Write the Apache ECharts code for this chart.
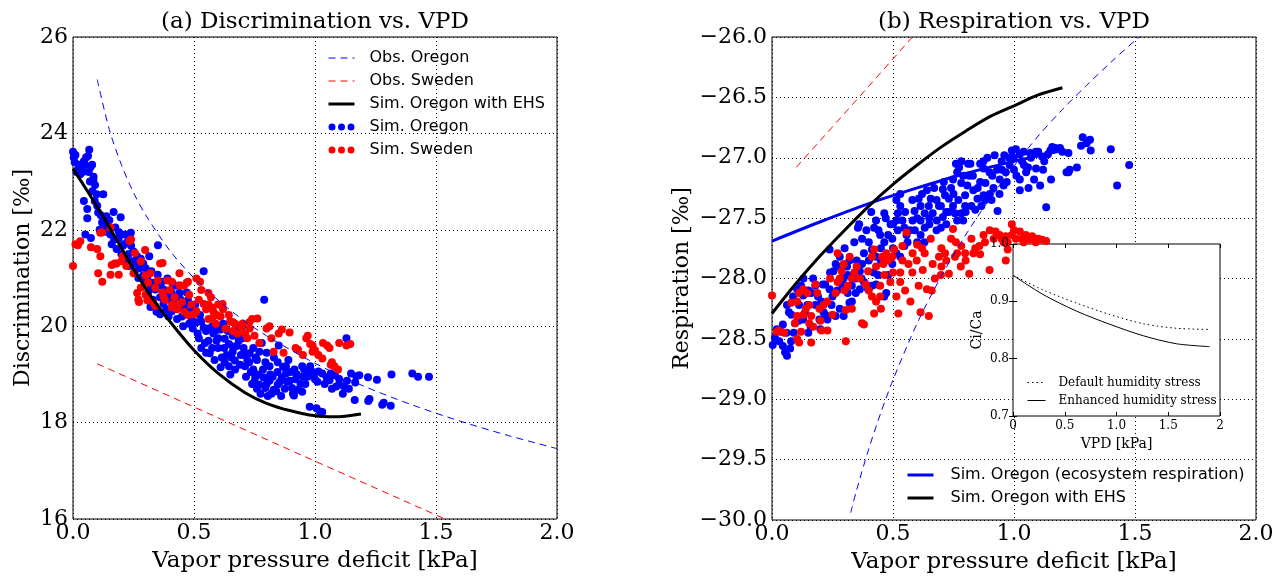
<!DOCTYPE html>
<html><head><meta charset="utf-8">
<script src="https://cdn.jsdelivr.net/npm/echarts@6/dist/echarts.min.js"></script>
<style>html,body{margin:0;padding:0;background:#fff}#c{width:1275px;height:576px}</style>
</head><body><div id="c"></div>
<script>
// ---------- Panel (a): Discrimination vs. VPD ----------
const obsOregonA = [[0.1,25.12],[0.15,24.08],[0.2,23.35],[0.25,22.77],[0.3,22.31],[0.4,21.57],[0.5,21.0],[0.6,20.54],[0.7,20.14],[0.8,19.8],[1.0,19.23],[1.2,18.76],[1.4,18.37],[1.6,18.03],[1.8,17.73],[2.0,17.46]];
const obsSwedenA = [[0.1,19.22],[0.644,18.0],[1.0,17.2],[1.6,15.86]];
const ehsA = [[0,23.27],[0.06,22.8],[0.121,22.3],[0.2,21.62],[0.256,21.14],[0.322,20.62],[0.408,20.05],[0.5,19.5],[0.6,19.02],[0.711,18.62],[0.8,18.4],[0.895,18.25],[1.0,18.14],[1.08,18.12],[1.19,18.18]];
const simOregonA = [[0.0,23.62],[0.003,23.5],[0.007,23.4],[0.015,23.2],[0.02,23.25],[0.03,23.15],[0.037,23.3],[0.045,23.42],[0.05,23.35],[0.054,23.5],[0.062,23.53],[0.067,23.66],[0.072,23.3],[0.079,23.35],[0.084,23.04],[0.091,22.93],[0.098,22.74],[0.125,22.74],[0.045,22.6],[0.059,22.43],[0.059,22.24],[0.051,21.9],[0.074,21.83],[0.085,23.1],[0.07,23.0],
[0.104,22.36],[0.11,22.0],[0.12,22.15],[0.138,22.28],[0.168,22.37],[0.197,22.26],[0.13,22.09],[0.145,21.95],[0.155,21.9],[0.17,21.8],[0.189,21.83],[0.214,21.9],[0.225,21.75],[0.239,21.94],[0.206,21.67],[0.18,21.6],[0.24,21.67],[0.25,21.55],[0.265,21.45],[0.222,21.37],[0.2,21.5],[0.256,21.14],[0.23,21.25],[0.28,21.4],[0.29,21.3],[0.3,21.2],[0.27,21.0],[0.16,21.7],[0.12,21.95],
[0.315,21.45],[0.324,21.14],[0.35,21.07],[0.367,20.92],[0.34,20.76],[0.307,20.99],[0.39,20.99],[0.374,20.76],[0.408,20.69],[0.425,20.84],[0.44,20.69],[0.374,20.46],[0.408,20.31],[0.44,20.39],[0.475,20.31],[0.49,20.16],[0.51,20.08],[0.54,21.14],[0.475,20.54],[0.525,20.23],[0.351,21.68],[0.33,20.9],[0.36,20.6],[0.385,20.35],[0.4,20.55],[0.42,20.5],[0.45,20.2],[0.46,20.45],[0.48,20.05],[0.5,20.3],[0.36,20.25],[0.33,20.55],
[0.54,19.97],[0.576,20.0],[0.61,19.93],[0.56,19.7],[0.593,19.7],[0.627,19.74],[0.644,19.63],[0.66,19.47],[0.677,19.59],[0.694,19.4],[0.627,19.25],[0.644,19.17],[0.669,19.29],[0.52,19.75],[0.53,19.55],[0.55,19.45],[0.565,19.44],[0.58,19.85],[0.6,19.55],[0.615,19.35],[0.64,19.9],[0.66,19.8],[0.68,19.95],[0.7,19.75],[0.55,19.9],[0.593,19.92],[0.661,19.58],[0.62,20.05],[0.65,20.1],[0.7,20.0],
[0.711,19.17],[0.728,19.25],[0.745,19.1],[0.753,18.94],[0.77,18.79],[0.787,18.94],[0.795,18.72],[0.812,18.87],[0.82,18.6],[0.829,18.68],[0.846,18.79],[0.863,18.94],[0.88,19.02],[0.896,18.87],[0.711,19.4],[0.745,19.55],[0.77,19.47],[0.795,19.25],[0.812,19.17],[0.846,19.25],[0.88,19.17],[0.73,19.44],[0.76,19.3],[0.78,19.65],[0.8,19.45],[0.83,19.35],[0.85,19.6],[0.868,19.16],[0.74,18.8],[0.76,18.7],[0.79,20.55],
[0.909,18.6],[0.913,18.56],[0.905,18.72],[0.93,18.68],[0.947,18.64],[0.95,18.95],[0.964,19.02],[0.947,19.17],[0.98,19.17],[0.99,19.05],[0.997,19.02],[1.014,19.06],[1.03,19.02],[1.048,18.94],[1.06,18.88],[1.065,19.02],[1.082,18.98],[1.088,18.75],[1.1,18.79],[1.1,18.9],[1.115,18.6],[1.132,18.87],[1.149,19.02],[1.164,18.47],[1.166,18.83],[1.17,18.96],[1.183,18.98],[1.13,19.75],[0.978,18.33],[1.006,18.3],[1.02,18.23],[1.03,18.22],[0.92,18.9],[0.96,18.8],
[1.219,18.94],[1.225,18.49],[1.256,18.89],[1.22,18.45],[1.278,18.37],[1.284,18.41],[1.313,18.35],[1.316,19.0],[1.402,19.02],[1.426,18.95],[1.471,18.95],
[0.01,23.55],[0.025,23.35],[0.04,23.2],[0.065,23.2],[0.08,22.8],[0.09,22.6],[0.1,22.5],[0.115,22.3],[0.135,22.1],[0.15,22.2],[0.175,22.05],[0.19,21.95],[0.21,21.7],[0.23,21.5],[0.245,21.35],[0.26,21.3],[0.275,21.2],[0.29,21.05],[0.3,20.95],[0.32,20.8],
[0.31,20.7],[0.32,20.4],[0.345,20.3],[0.36,20.85],[0.38,20.65],[0.395,20.2],[0.41,20.9],[0.43,20.15],[0.445,20.55],[0.455,20.0],[0.47,20.7],[0.485,20.3],[0.495,19.95],[0.505,20.45],[0.515,19.85],[0.53,20.1],[0.545,19.65],[0.56,19.95],[0.575,19.55],[0.585,19.3],[0.6,19.75],[0.61,19.15],[0.625,19.55],[0.635,19.4],[0.65,19.0],[0.655,19.35],[0.67,19.1],[0.685,19.7],[0.69,19.2],[0.705,19.55],[0.715,18.95],[0.72,19.3],[0.735,19.05],[0.75,18.85],[0.755,19.35],[0.765,19.0],[0.775,18.6],[0.785,19.1],[0.8,18.8],[0.805,18.55],[0.815,19.0],[0.825,18.95],[0.84,18.65],[0.845,19.05],[0.855,18.85],[0.86,18.55],[0.875,18.7],[0.885,18.85],[0.89,19.3],[0.9,19.05],[0.915,19.1],[0.925,19.0],[0.94,18.8],[0.955,19.1],[0.97,18.95],[0.985,19.0],[1.0,18.9],[1.01,18.85],[1.04,18.8],[1.07,18.7],[1.12,18.75],[1.14,18.7]];
const simSwedenA = [[0.0,21.25],[0.01,21.7],[0.02,21.68],[0.03,21.76],[0.074,21.64],[0.104,21.1],[0.1,21.6],[0.113,21.45],[0.113,21.94],[0.121,20.92],[0.12,21.95],[0.155,22.05],[0.155,21.07],[0.16,21.27],[0.172,21.3],[0.18,21.3],[0.189,21.07],[0.2,21.35],[0.206,21.45],[0.22,21.25],[0.234,21.77],[0.24,21.8],[0.25,21.1],[0.256,21.52],[0.265,20.69],[0.27,20.55],[0.273,20.5],[0.28,20.8],[0.28,21.35],[0.298,21.58],[0.3,20.65],[0.3,21.05],[0.307,20.54],[0.31,20.9],[0.32,21.1],[0.33,20.5],[0.34,20.42],[0.34,20.8],[0.35,20.95],[0.36,21.3],[0.37,21.31],[0.37,20.7],[0.374,20.61],[0.38,20.55],[0.39,20.95],[0.4,20.75],[0.408,20.39],[0.408,20.92],[0.41,20.45],[0.42,20.6],[0.43,20.35],[0.44,21.1],[0.44,20.46],[0.44,20.85],[0.45,20.5],[0.458,20.84],[0.46,20.3],[0.47,20.9],[0.475,20.92],[0.475,20.23],[0.48,20.65],[0.49,20.45],[0.5,20.25],[0.51,20.99],[0.51,20.31],[0.52,20.55],[0.525,20.92],[0.53,20.75],[0.54,20.46],[0.55,20.35],[0.56,20.69],[0.56,20.15],[0.56,20.45],[0.57,20.6],[0.576,20.39],[0.576,20.16],[0.58,20.3],[0.59,20.05],[0.593,20.23],[0.6,20.45],[0.61,20.2],[0.618,20.46],[0.62,20.35],[0.63,19.95],[0.644,20.23],[0.65,20.1],[0.66,20.08],[0.66,19.9],[0.67,20.05],[0.68,19.85],[0.694,19.97],[0.7,20.05],[0.711,19.85],[0.72,19.75],[0.728,20.08],[0.73,19.95],[0.74,20.15],[0.75,19.8],[0.762,20.16],[0.77,19.65],[0.8,19.95],[0.812,20.0],[0.82,19.75],[0.829,19.47],[0.85,19.85],[0.863,19.93],[0.87,19.45],[0.895,19.87],[0.92,19.55],[0.93,19.51],[0.95,19.4],[0.964,19.75],[0.97,19.8],[0.98,19.63],[0.99,19.47],[0.99,19.6],[1.0,19.5],[1.014,19.4],[1.03,19.33],[1.033,19.65],[1.05,19.6],[1.06,19.55],[1.065,19.2],[1.07,19.25],[1.08,19.17],[1.095,19.1],[1.1,19.65],[1.13,19.6],[1.146,19.63]];

// ---------- Panel (b): Respiration vs. VPD ----------
const obsOregonB = [[0.325,-29.94],[0.35,-29.75],[0.4,-29.41],[0.45,-29.11],[0.5,-28.84],[0.6,-28.37],[0.7,-27.98],[0.8,-27.64],[0.9,-27.34],[1.0,-27.07],[1.1,-26.82],[1.2,-26.6],[1.3,-26.4],[1.4,-26.21],[1.5,-26.03],[1.55,-25.95]];
const obsSwedenB = [[0.1,-27.08],[0.35,-26.52],[0.62,-25.91]];
const ecoOregonB = [[0,-27.69],[0.2,-27.53],[0.4,-27.38],[0.6,-27.25],[0.8,-27.13],[1.0,-27.03],[1.2,-26.94]];
const ehsB = [[0,-28.29],[0.1,-28.04],[0.2,-27.81],[0.3,-27.6],[0.4,-27.4],[0.5,-27.22],[0.6,-27.06],[0.7,-26.91],[0.8,-26.78],[0.9,-26.66],[1.0,-26.57],[1.1,-26.48],[1.2,-26.42]];
const simOregonB = [[0.003,-28.55],[0.012,-28.49],[0.045,-28.38],[0.037,-28.44],[0.054,-28.61],[0.045,-28.56],[0.062,-28.64],[0.075,-28.58],[0.079,-28.52],[0.07,-28.28],[0.062,-28.22],[0.087,-28.15],[0.104,-28.09],[0.12,-28.06],[0.129,-28.14],[0.112,-28.22],[0.095,-28.37],[0.129,-28.34],[0.137,-28.28],[0.146,-28.22],[0.162,-28.12],[0.17,-28.0],[0.179,-28.06],[0.179,-28.22],[0.196,-28.34],[0.213,-28.28],[0.204,-28.19],[0.229,-28.34],[0.238,-28.09],[0.246,-28.22],[0.263,-28.31],[0.28,-28.25],[0.296,-28.31],[0.254,-27.94],[0.263,-27.88],[0.238,-27.76],[0.28,-27.82],[0.296,-28.0],[0.313,-27.97],[0.33,-28.06],[0.313,-28.12],[0.33,-28.19],[0.346,-28.12],[0.363,-28.09],[0.346,-28.0],[0.363,-27.94],[0.372,-27.88],[0.38,-27.79],[0.372,-27.67],[0.355,-27.58],[0.38,-28.03],[0.397,-28.09],[0.413,-28.06],[0.43,-28.05],[0.438,-27.97],[0.43,-27.82],[0.413,-27.76],[0.422,-27.58],[0.43,-27.52],[0.464,-27.46],[0.447,-27.64],[0.464,-27.7],[0.48,-27.64],[0.497,-27.67],[0.514,-27.52],[0.52,-27.46],[0.514,-27.35],[0.53,-27.4],[0.539,-27.52],[0.547,-27.58],[0.556,-27.64],[0.547,-27.73],[0.53,-27.82],[0.497,-27.88],[0.48,-27.97],[0.472,-28.12],[0.464,-28.15],[0.514,-27.79],[0.581,-27.52],[0.589,-27.44],[0.614,-27.4],[0.606,-27.34],[0.614,-27.52],[0.631,-27.46],[0.648,-27.4],[0.656,-27.34],[0.64,-27.27],[0.614,-27.64],[0.631,-27.58],[0.664,-27.46],[0.681,-27.52],[0.698,-27.58],[0.706,-27.49],[0.698,-27.4],[0.715,-27.31],[0.706,-27.26],[0.731,-27.34],[0.748,-27.4],[0.756,-27.46],[0.765,-27.52],[0.782,-27.46],[0.79,-27.52],[0.798,-27.4],[0.798,-27.31],[0.807,-27.23],[0.782,-27.21],[0.765,-27.12],[0.748,-27.18],[0.773,-27.08],[0.782,-27.03],[0.815,-27.15],[0.832,-27.27],[0.824,-27.4],[0.84,-27.43],[0.849,-27.34],[0.865,-27.4],[0.874,-27.31],[0.882,-27.21],[0.874,-27.09],[0.874,-27.03],[0.899,-27.12],[0.907,-27.35],[0.915,-27.25],[0.932,-27.44],[0.941,-27.18],[0.949,-27.03],[0.957,-27.23],[0.966,-27.12],[0.982,-27.06],[0.991,-26.94],[0.999,-27.0],[1.008,-26.93],[1.024,-26.97],[1.033,-27.03],[1.024,-27.18],[1.024,-27.27],[1.041,-27.06],[1.058,-27.08],[1.066,-26.96],[1.083,-27.18],[1.091,-27.09],[1.108,-27.23],[1.116,-26.99],[1.125,-27.03],[1.133,-27.41],[1.15,-26.94],[1.158,-26.91],[1.166,-26.93],[1.153,-27.18],[1.217,-27.12],[1.225,-26.96],[1.26,-27.08],[1.277,-26.9],[1.284,-26.83],[1.314,-26.85],[1.317,-26.94],[1.4,-26.93],[1.426,-27.23],[1.476,-27.06],[1.225,-27.12],
[0.15,-28.45],[0.2,-28.42],[0.22,-28.05],[0.27,-28.1],[0.32,-27.85],[0.4,-27.7],[0.45,-27.85],[0.5,-27.55],[0.57,-27.6],[0.6,-27.7],[0.65,-27.55],[0.68,-27.35],[0.72,-27.45],[0.74,-27.25],[0.82,-27.05],[0.86,-27.2],[0.9,-27.3],[0.93,-27.1],[0.96,-26.98],[1.05,-27.12],[1.1,-26.95],[1.19,-26.92],
[0.02,-28.42],[0.03,-28.52],[0.06,-28.45],[0.08,-28.3],[0.09,-28.45],[0.11,-28.35],[0.13,-28.0],[0.15,-28.1],[0.16,-28.4],[0.19,-28.15],[0.21,-28.05],[0.22,-28.3],[0.24,-27.95],[0.25,-28.15],[0.27,-27.9],[0.29,-28.05],[0.3,-27.75],[0.31,-27.9],[0.32,-28.2],[0.34,-27.7],[0.35,-27.85],[0.36,-27.55],[0.37,-28.0],[0.39,-27.6],[0.4,-27.85],[0.41,-27.45],[0.42,-27.95],[0.44,-27.6],[0.45,-27.75],[0.47,-27.5],[0.49,-27.55],[0.5,-27.75],[0.52,-27.6],[0.53,-27.3],[0.55,-27.45],[0.56,-27.7],[0.58,-27.35],[0.59,-27.6],[0.6,-27.5],[0.62,-27.3],[0.63,-27.7],[0.65,-27.5],[0.67,-27.25],[0.68,-27.6],[0.69,-27.4],[0.71,-27.2],[0.72,-27.55],[0.73,-27.45],[0.75,-27.3],[0.76,-27.05],[0.77,-27.35],[0.79,-27.15],[0.8,-27.45],[0.81,-27.05],[0.83,-27.15],[0.85,-27.25],[0.86,-27.05],[0.88,-27.35],[0.89,-27.0],[0.91,-27.15],[0.92,-26.98],[0.94,-27.3],[0.95,-27.1],[0.97,-27.2],[0.98,-27.0],[1.0,-27.1],[1.01,-27.15],[1.04,-26.95],[1.06,-27.25],[1.07,-27.0],[1.09,-26.95],[1.12,-27.1],[1.14,-26.97],[1.17,-26.92],[1.2,-26.95],[1.23,-27.1],[1.3,-26.88]];
const simSwedenB = [[0.0,-28.14],[0.02,-28.44],[0.029,-28.43],[0.095,-28.37],[0.104,-28.5],[0.112,-28.53],[0.12,-28.44],[0.104,-28.31],[0.104,-28.19],[0.112,-28.12],[0.129,-28.09],[0.146,-28.12],[0.154,-28.22],[0.162,-28.31],[0.154,-28.37],[0.162,-28.53],[0.17,-28.4],[0.187,-28.12],[0.196,-28.25],[0.204,-28.43],[0.229,-28.43],[0.213,-28.22],[0.229,-28.19],[0.263,-28.12],[0.271,-28.03],[0.28,-28.0],[0.288,-27.94],[0.296,-27.88],[0.271,-27.79],[0.313,-28.06],[0.321,-27.82],[0.33,-28.0],[0.305,-28.26],[0.305,-28.52],[0.33,-28.25],[0.363,-28.0],[0.372,-28.37],[0.38,-28.38],[0.388,-28.05],[0.397,-27.94],[0.413,-27.82],[0.422,-27.76],[0.413,-28.15],[0.422,-28.29],[0.43,-28.19],[0.447,-28.15],[0.447,-28.06],[0.464,-27.97],[0.455,-27.82],[0.472,-27.79],[0.48,-27.85],[0.489,-28.03],[0.497,-27.82],[0.505,-27.76],[0.514,-28.15],[0.522,-28.29],[0.53,-28.03],[0.539,-27.85],[0.539,-27.73],[0.556,-27.62],[0.564,-27.88],[0.572,-28.19],[0.581,-27.79],[0.598,-27.85],[0.606,-28.06],[0.614,-28.28],[0.623,-27.93],[0.631,-27.79],[0.64,-28.09],[0.648,-28.31],[0.656,-27.67],[0.664,-27.88],[0.673,-28.0],[0.69,-27.82],[0.698,-27.97],[0.715,-27.79],[0.731,-27.96],[0.74,-27.67],[0.748,-27.59],[0.756,-27.82],[0.765,-27.79],[0.782,-27.73],[0.798,-27.79],[0.815,-27.96],[0.824,-27.67],[0.832,-27.79],[0.857,-27.73],[0.874,-27.64],[0.899,-27.93],[0.924,-27.61],[0.941,-27.64],[0.949,-27.67],[0.966,-27.85],[0.974,-27.7],[0.991,-27.55],[0.991,-27.64],[1.008,-27.67],[1.024,-27.61],[1.033,-27.67],[1.049,-27.64],[1.066,-27.68],[1.075,-27.65],[1.1,-27.67],[1.116,-27.68],[1.133,-27.69],[0.966,-27.65],[0.957,-27.7],[0.916,-27.67],[0.974,-27.76],
[0.05,-28.45],[0.14,-28.25],[0.24,-28.0],[0.35,-27.9],[0.46,-27.88],[0.53,-27.95],[0.6,-27.72],[0.7,-27.9],[0.78,-27.9],[0.86,-27.8],
[0.08,-28.2],[0.13,-28.3],[0.18,-28.05],[0.2,-28.35],[0.25,-28.3],[0.3,-28.1],[0.34,-27.95],[0.4,-28.1],[0.43,-27.9],[0.45,-28.25],[0.5,-27.95],[0.55,-28.1],[0.58,-27.95],[0.62,-27.75],[0.66,-28.1],[0.7,-27.75],[0.72,-27.85],[0.76,-27.7],[0.8,-27.85],[0.84,-27.75],[0.88,-27.7],[0.9,-27.6],[1.0,-27.6],[1.04,-27.7],[1.09,-27.7]];

// ---------- Inset: Ci/Ca vs VPD ----------
const defaultStress = [[0,0.9455],[0.29,0.920],[0.613,0.897],[0.935,0.877],[1.258,0.861],[1.58,0.853],[1.90,0.851]];
const enhancedStress = [[0,0.9455],[0.29,0.912],[0.613,0.883],[0.935,0.860],[1.258,0.840],[1.58,0.826],[1.90,0.821]];
const insetXLabels = {0:'0',0.5:'0.5',1:'1.0',1.5:'1.5',2:'2'};

const SERIF = 'DejaVu Serif', SANS = 'DejaVu Sans';
const BLUE = '#0000ff', RED = '#ff0000';
const DASH = [7,5];
const dotsIcon = 'path://M0,3.5a3.5,3.5 0 1,0 7,0a3.5,3.5 0 1,0 -7,0Z M9.5,3.5a3.5,3.5 0 1,0 7,0a3.5,3.5 0 1,0 -7,0Z M19,3.5a3.5,3.5 0 1,0 7,0a3.5,3.5 0 1,0 -7,0Z';
const noDot = {opacity:0};

const mainGrid = (left, height) => ({left, top:37, width:484, height, show:true, borderColor:'#000', borderWidth:1, backgroundColor:'transparent', containLabel:false, outerBoundsMode:'none'});
const split = {show:true, lineStyle:{color:'#000', type:[1,3], width:1}};
const tickLbl = {fontFamily:SERIF, fontSize:22, color:'#000'};
const minusFmt = v => (v < 0 ? '\u2212' : '') + Math.abs(v).toFixed(1);
const dot = c => ({color:c, opacity:1});

const option = {
  backgroundColor:'#fff',
  animation:false,
  title:[
    {text:'(a) Discrimination vs. VPD', left:315, top:11, textAlign:'center', padding:0, textStyle:{fontFamily:SERIF, fontSize:23, fontWeight:'normal', color:'#000'}},
    {text:'(b) Respiration vs. VPD', left:1014, top:11, textAlign:'center', padding:0, textStyle:{fontFamily:SERIF, fontSize:23, fontWeight:'normal', color:'#000'}}
  ],
  grid:[
    mainGrid(73, 482),
    mainGrid(772, 483),
    {left:1013, top:244, width:207, height:172, show:true, borderColor:'#000', borderWidth:1, backgroundColor:'#fff', z:1, containLabel:false, outerBoundsMode:'none'}
  ],
  xAxis:[
    {gridIndex:0, type:'value', min:0, max:2, interval:0.5, axisLine:{show:false}, axisTick:{show:false}, splitLine:split,
     axisLabel:Object.assign({margin:3, formatter:v=>v.toFixed(1)}, tickLbl),
     name:'Vapor pressure deficit [kPa]', nameLocation:'middle', nameGap:31, nameTextStyle:{fontFamily:SERIF, fontSize:23, color:'#000'}},
    {gridIndex:1, type:'value', min:0, max:2, interval:0.5, axisLine:{show:false}, axisTick:{show:false}, splitLine:split,
     axisLabel:Object.assign({margin:3, formatter:v=>v.toFixed(1)}, tickLbl),
     name:'Vapor pressure deficit [kPa]', nameLocation:'middle', nameGap:31, nameTextStyle:{fontFamily:SERIF, fontSize:23, color:'#000'}},
    {gridIndex:2, type:'value', min:0, max:2, interval:0.5, z:3, axisLine:{show:false}, splitLine:{show:false},
     axisTick:{show:true, inside:true, length:4, lineStyle:{color:'#000'}},
     axisLabel:{margin:4, fontFamily:SERIF, fontSize:12, color:'#000', formatter:v=>insetXLabels[v]},
     name:'VPD [kPa]', nameLocation:'middle', nameGap:21, nameTextStyle:{fontFamily:SERIF, fontSize:14, color:'#000'}},
    {gridIndex:2, type:'value', position:'top', min:0, max:2, interval:0.5, z:3, axisLine:{show:false}, splitLine:{show:false},
     axisTick:{show:true, inside:true, length:4, lineStyle:{color:'#000'}}, axisLabel:{show:false}}
  ],
  yAxis:[
    {gridIndex:0, type:'value', min:16, max:26, interval:2, axisLine:{show:false}, axisTick:{show:false}, splitLine:split,
     axisLabel:Object.assign({margin:5}, tickLbl),
     name:'Discrimination [‰]', nameLocation:'middle', nameGap:39, nameTextStyle:{fontFamily:SERIF, fontSize:22, color:'#000'}},
    {gridIndex:1, type:'value', min:-30, max:-26, interval:0.5, axisLine:{show:false}, axisTick:{show:false}, splitLine:split,
     axisLabel:Object.assign({margin:5, formatter:minusFmt}, tickLbl),
     name:'Respiration [‰]', nameLocation:'middle', nameGap:79, nameTextStyle:{fontFamily:SERIF, fontSize:22, color:'#000'}},
    {gridIndex:2, type:'value', min:0.7, max:1.0, interval:0.1, z:3, axisLine:{show:false}, splitLine:{show:false},
     axisTick:{show:true, inside:true, length:4, lineStyle:{color:'#000'}},
     axisLabel:{margin:4, fontFamily:SERIF, fontSize:12, color:'#000', formatter:v=>v.toFixed(1)},
     name:'Ci/Ca', nameLocation:'middle', nameGap:29, nameTextStyle:{fontFamily:SERIF, fontSize:14, color:'#000'}},
    {gridIndex:2, type:'value', position:'right', min:0.7, max:1.0, interval:0.1, z:3, axisLine:{show:false}, splitLine:{show:false},
     axisTick:{show:true, inside:true, length:4, lineStyle:{color:'#000'}}, axisLabel:{show:false}}
  ],
  legend:[
    {orient:'vertical', left:327, top:49, itemWidth:26, itemHeight:7, itemGap:5, padding:0,
     textStyle:{fontFamily:SANS, fontSize:16, color:'#000', lineHeight:18, padding:[0,0,0,10]},
     data:[
       {name:'Obs. Oregon', lineStyle:{color:BLUE, width:1, type:DASH}, itemStyle:noDot},
       {name:'Obs. Sweden', lineStyle:{color:RED, width:1, type:DASH}, itemStyle:noDot},
       {name:'Sim. Oregon with EHS', lineStyle:{color:'#000', width:3}, itemStyle:noDot},
       {name:'Sim. Oregon', icon:dotsIcon, itemStyle:{color:BLUE, opacity:1}},
       {name:'Sim. Sweden', icon:dotsIcon, itemStyle:{color:RED, opacity:1}}
     ]},
    {orient:'vertical', left:906, top:466, itemWidth:26, itemHeight:7, itemGap:5, padding:0,
     textStyle:{fontFamily:SANS, fontSize:16, color:'#000', lineHeight:18, padding:[0,0,0,12]},
     data:[
       {name:'Sim. Oregon (ecosystem respiration)', lineStyle:{color:BLUE, width:3}, itemStyle:noDot},
       {name:'Sim. Oregon with EHS', lineStyle:{color:'#000', width:3}, itemStyle:noDot}
     ]},
    {orient:'vertical', left:1027, top:376, itemWidth:18, itemHeight:6, itemGap:5, padding:0, z:4,
     textStyle:{fontFamily:SERIF, fontSize:12, color:'#000', lineHeight:13, padding:[0,0,0,8]},
     data:[
       {name:'Default humidity stress', lineStyle:{color:'#000', width:1, type:[1.5,3]}, itemStyle:noDot},
       {name:'Enhanced humidity stress', lineStyle:{color:'#000', width:1}, itemStyle:noDot}
     ]}
  ],
  series:[
    // panel (a)
    {name:'Sim. Oregon', type:'scatter', xAxisIndex:0, yAxisIndex:0, data:simOregonA, symbolSize:8, itemStyle:dot(BLUE), z:2},
    {name:'Sim. Sweden', type:'scatter', xAxisIndex:0, yAxisIndex:0, data:simSwedenA, symbolSize:8, itemStyle:dot(RED), z:2},
    {name:'Obs. Oregon', type:'line', xAxisIndex:0, yAxisIndex:0, data:obsOregonA, smooth:0.3, showSymbol:false, symbol:'none', lineStyle:{color:BLUE, width:1, type:DASH}, itemStyle:{color:BLUE}, z:3},
    {name:'Obs. Sweden', type:'line', xAxisIndex:0, yAxisIndex:0, data:obsSwedenA, showSymbol:false, symbol:'none', lineStyle:{color:RED, width:1, type:DASH}, itemStyle:{color:RED}, z:3},
    {name:'Sim. Oregon with EHS', type:'line', xAxisIndex:0, yAxisIndex:0, data:ehsA, smooth:0.3, showSymbol:false, symbol:'none', lineStyle:{color:'#000', width:3}, itemStyle:{color:'#000'}, z:3},
    // panel (b)
    {name:'Oregon b', type:'scatter', xAxisIndex:1, yAxisIndex:1, data:simOregonB, symbolSize:8, itemStyle:dot(BLUE), z:2},
    {name:'Sweden b', type:'scatter', xAxisIndex:1, yAxisIndex:1, data:simSwedenB, symbolSize:8, itemStyle:dot(RED), z:2},
    {name:'Obs Oregon b', type:'line', xAxisIndex:1, yAxisIndex:1, data:obsOregonB, smooth:0.3, showSymbol:false, symbol:'none', lineStyle:{color:BLUE, width:1, type:DASH}, itemStyle:{color:BLUE}, z:3},
    {name:'Obs Sweden b', type:'line', xAxisIndex:1, yAxisIndex:1, data:obsSwedenB, showSymbol:false, symbol:'none', lineStyle:{color:RED, width:1, type:DASH}, itemStyle:{color:RED}, z:3},
    {name:'Sim. Oregon (ecosystem respiration)', type:'line', xAxisIndex:1, yAxisIndex:1, data:ecoOregonB, smooth:0.3, showSymbol:false, symbol:'none', lineStyle:{color:BLUE, width:3}, itemStyle:{color:BLUE}, z:3},
    {name:'Sim. Oregon with EHS', type:'line', xAxisIndex:1, yAxisIndex:1, data:ehsB, smooth:0.3, showSymbol:false, symbol:'none', lineStyle:{color:'#000', width:3}, itemStyle:{color:'#000'}, z:3},
    // inset
    {name:'Default humidity stress', type:'line', xAxisIndex:2, yAxisIndex:2, data:defaultStress, smooth:0.3, showSymbol:false, symbol:'none', lineStyle:{color:'#000', width:1, type:[1.5,3]}, itemStyle:{color:'#000'}, z:4},
    {name:'Enhanced humidity stress', type:'line', xAxisIndex:2, yAxisIndex:2, data:enhancedStress, smooth:0.3, showSymbol:false, symbol:'none', lineStyle:{color:'#000', width:1}, itemStyle:{color:'#000'}, z:4}
  ]
};
echarts.init(document.getElementById('c'), null, {renderer:'canvas'}).setOption(option);
</script></body></html>
